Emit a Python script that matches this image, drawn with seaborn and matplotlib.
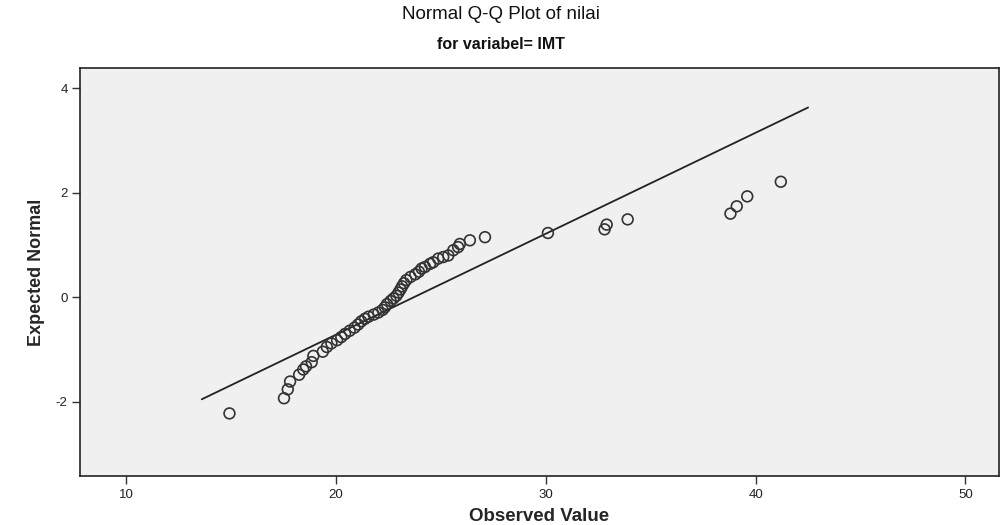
import numpy as np
import pandas as pd
import matplotlib
matplotlib.use("Agg")
import matplotlib.pyplot as plt
import seaborn as sns

observed = [14.92, 17.52, 17.70, 17.81, 18.24, 18.44, 18.57, 18.84, 18.92, 19.37, 19.56,
            19.78, 20.05, 20.25, 20.43, 20.65, 20.88, 21.05, 21.20, 21.38, 21.55, 21.80,
            22.02, 22.22, 22.33, 22.43, 22.60, 22.74, 22.88, 22.98, 23.07, 23.15, 23.24,
            23.35, 23.55, 23.78, 23.95,
            24.08, 24.24, 24.48, 24.63, 24.87, 25.11, 25.35, 25.59, 25.82, 25.90, 26.38, 27.10,
            30.10, 32.80, 32.90, 33.90, 38.80, 39.10, 39.60, 41.20]
expected = [-2.22, -1.93, -1.76, -1.61, -1.48, -1.38, -1.32, -1.24, -1.12, -1.04, -0.95,
            -0.88, -0.82, -0.76, -0.70, -0.64, -0.58, -0.52, -0.46, -0.41, -0.37, -0.33,
            -0.29, -0.24, -0.19, -0.13, -0.07, -0.02, 0.03, 0.09, 0.15, 0.21, 0.27,
            0.33, 0.39, 0.44, 0.49,
            0.55, 0.58, 0.64, 0.67, 0.74, 0.77, 0.80, 0.90, 0.96, 1.02, 1.09, 1.15,
            1.23, 1.30, 1.39, 1.49, 1.60, 1.74, 1.93, 2.21]

# Reference line parameters
ref_mean = 23.7
ref_sd = 5.18
ref_x = [13.6, 42.5]

x_ticks = [10, 20, 30, 40, 50]
y_ticks = [-2, 0, 2, 4]

title = "Normal Q-Q Plot of nilai"
subtitle = "for variabel= IMT"
xlabel = "Observed Value"
ylabel = "Expected Normal"

sns.set_theme(style="white")
plt.rcParams['font.family'] = ['Liberation Sans', 'DejaVu Sans']
plt.rcParams['axes.unicode_minus'] = False

df = pd.DataFrame({"obs": observed, "exp": expected})
line_df = pd.DataFrame({"x": ref_x, "y": [(v - ref_mean) / ref_sd for v in ref_x]})

fig = plt.figure(figsize=(10.01, 5.25), dpi=100)
ax = fig.add_axes([0.08, 0.093, 0.918, 0.777])
ax.set_facecolor("#f0f0f0")

sns.lineplot(data=line_df, x="x", y="y", ax=ax, color="#222222", linewidth=1.3)
sns.scatterplot(data=df, x="obs", y="exp", ax=ax, marker="o", s=60,
                facecolors="none", edgecolor="#333333", linewidth=1.2, zorder=3)

ax.set_xlim(7.8, 51.6)
ax.set_ylim(-3.42, 4.38)
ax.set_xticks(x_ticks)
ax.set_yticks(y_ticks)
ax.tick_params(axis="both", direction="out", length=6, width=1, color="#333333",
               labelsize=9.5, labelcolor="#222222", bottom=True, left=True, pad=3)
for sp in ax.spines.values():
    sp.set_color("#222222")
    sp.set_linewidth(1.2)

narrow = ['Liberation Sans Narrow', 'Liberation Sans', 'DejaVu Sans']
ax.set_xlabel(xlabel, fontsize=13.5, fontweight="bold", family=narrow, labelpad=5)
ax.set_ylabel(ylabel, fontsize=13, fontweight="bold", family=narrow, labelpad=8)

fig.text(0.5, 0.973, title, ha="center", va="center", fontsize=13.5, color="#111111")
fig.text(0.5, 0.915, subtitle, ha="center", va="center", fontsize=11.5,
         fontweight="bold", family=narrow, color="#111111")

fig.savefig("out.png", dpi=100, facecolor="white")
